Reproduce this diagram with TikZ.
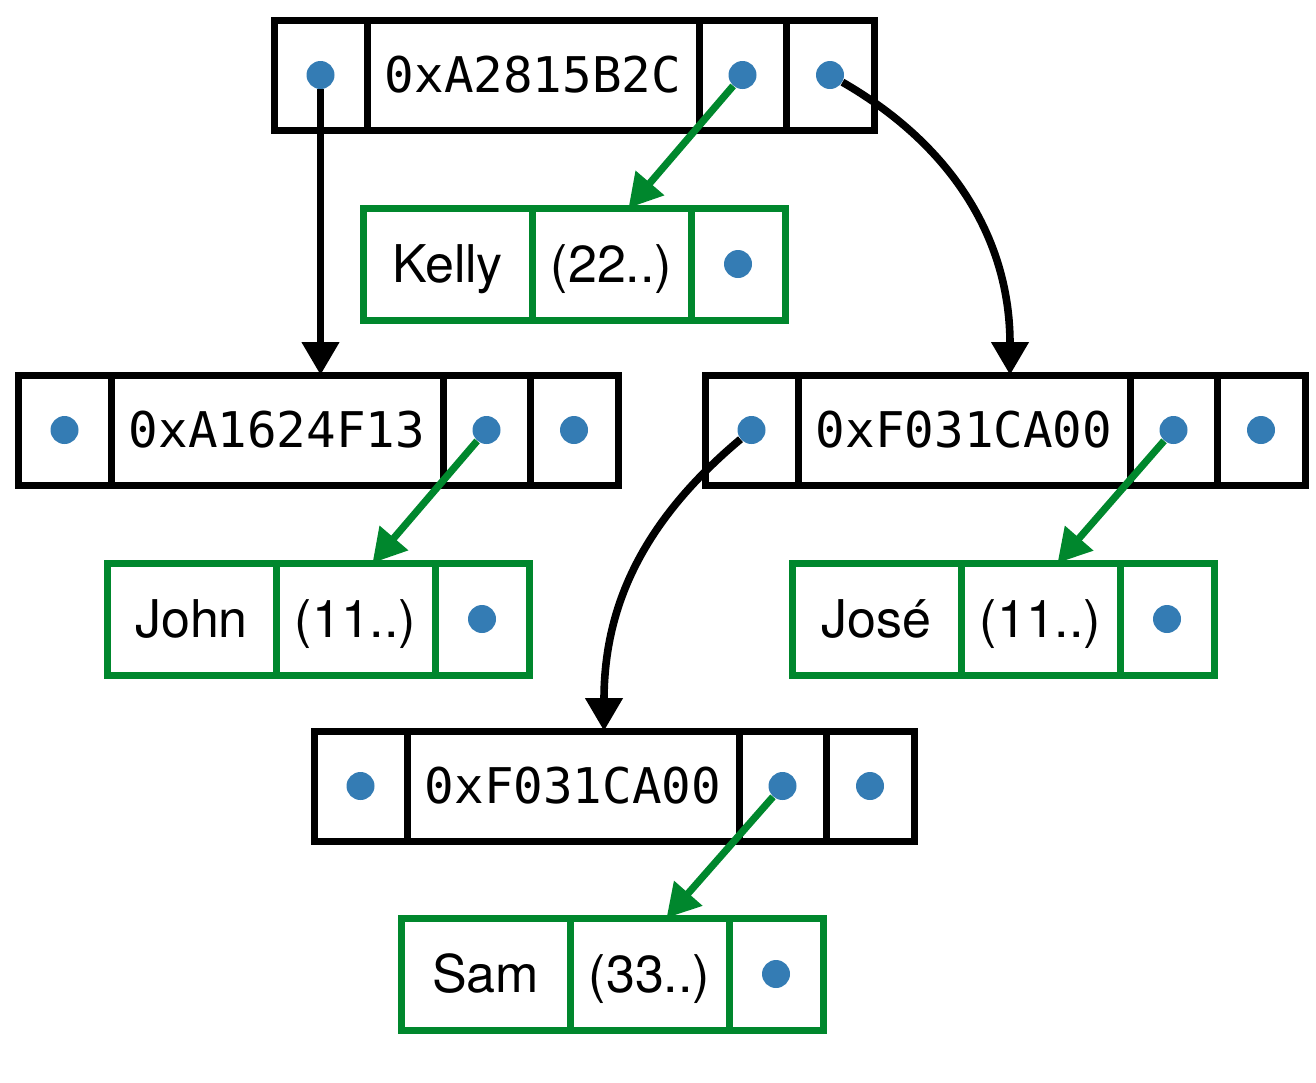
\documentclass[tikz,border=0pt]{standalone}
\usepackage{fontspec}
\setmainfont{TeX Gyre Heros}
\setmonofont{DejaVu Sans Mono}
\usetikzlibrary{positioning,arrows.meta}
\definecolor{ptrblue}{RGB}{52,124,180}
\definecolor{recgreen}{RGB}{0,135,45}
\tikzset{
  cell/.style={draw,line width=3.5pt,inner sep=0pt,outer sep=0pt},
  bcell/.style={cell,minimum width=#1,minimum height=55pt},
  addr/.style={bcell=166pt,font=\fontsize{24.6}{28}\selectfont\ttfamily,
    text height=17.9pt,text depth=0pt},
  gcell/.style={cell,draw=recgreen,minimum width=#1,minimum height=56pt,
    font=\fontsize{26}{30}\selectfont,text height=18.7pt,text depth=0pt},
  dot/.style={circle,fill=ptrblue,inner sep=0pt,minimum size=14pt},
  ptr/.style={line width=3.8pt,-{Triangle[length=16.5pt,width=18pt]}},
  gptr/.style={ptr,draw=recgreen,line width=3.6pt,
    -{Triangle[length=16.5pt,width=18pt,fill=recgreen]}}
}
\begin{document}
\begin{tikzpicture}[x=0.5pt,y=-0.5pt]
  \useasboundingbox (0,0) rectangle (1316,1082);
  % top record
  \node[bcell=46.5pt,anchor=west] (t1) at (274,75) {};
  \node[addr,right=0pt of t1] (t2) {0xA2815B2C};
  \node[bcell=43.5pt,right=0pt of t2] (t3) {};
  \node[bcell=44pt,right=0pt of t3] (t4) {};
  % Kelly
  \node[gcell=84.5pt,anchor=west] (k1) at (363,264) {Kelly};
  \node[gcell=79.5pt,right=0pt of k1] (k2) {(22..)};
  \node[gcell=47pt,right=0pt of k2] (k3) {};
  % left record
  \node[bcell=46.5pt,anchor=west] (l1) at (18,430) {};
  \node[addr,right=0pt of l1] (l2) {0xA1624F13};
  \node[bcell=43.5pt,right=0pt of l2] (l3) {};
  \node[bcell=44pt,right=0pt of l3] (l4) {};
  % right record
  \node[bcell=46.5pt,anchor=west] (r1) at (705,430) {};
  \node[addr,right=0pt of r1] (r2) {0xF031CA00};
  \node[bcell=43.5pt,right=0pt of r2] (r3) {};
  \node[bcell=44pt,right=0pt of r3] (r4) {};
  % John
  \node[gcell=84.5pt,anchor=west] (j1) at (107,619) {John};
  \node[gcell=79.5pt,right=0pt of j1] (j2) {(11..)};
  \node[gcell=47pt,right=0pt of j2] (j3) {};
  % José
  \node[gcell=84.5pt,anchor=west] (o1) at (792,619) {José};
  \node[gcell=79.5pt,right=0pt of o1] (o2) {(11..)};
  \node[gcell=47pt,right=0pt of o2] (o3) {};
  % bottom record
  \node[bcell=46.5pt,anchor=west] (b1) at (314,786) {};
  \node[addr,right=0pt of b1] (b2) {0xF031CA00};
  \node[bcell=43.5pt,right=0pt of b2] (b3) {};
  \node[bcell=44pt,right=0pt of b3] (b4) {};
  % Sam
  \node[gcell=84.5pt,anchor=west] (s1) at (401,974) {Sam};
  \node[gcell=79.5pt,right=0pt of s1] (s2) {(33..)};
  \node[gcell=47pt,right=0pt of s2] (s3) {};
  % pointers
  \foreach \c in {t1,t3,t4,l1,l3,l4,r1,r3,r4,b1,b3,b4,k3,j3,o3,s3}
    \node[dot] (\c d) at (\c) {};
  \draw[ptr] (t1d) -- (t1d |- l2.north);
  \draw[ptr] (t4d) to[out=-30,in=90] ([xshift=23pt]r2.north);
  \draw[ptr] (r1d) to[out=-140,in=90] ([xshift=15.5pt]b2.north);
  \draw[gptr] (t3d) -- ([xshift=8.5pt]k2.north);
  \draw[gptr] (l3d) -- ([xshift=8.5pt]j2.north);
  \draw[gptr] (r3d) -- ([xshift=8.5pt]o2.north);
  \draw[gptr] (b3d) -- ([xshift=8.5pt]s2.north);
\end{tikzpicture}
\end{document}
